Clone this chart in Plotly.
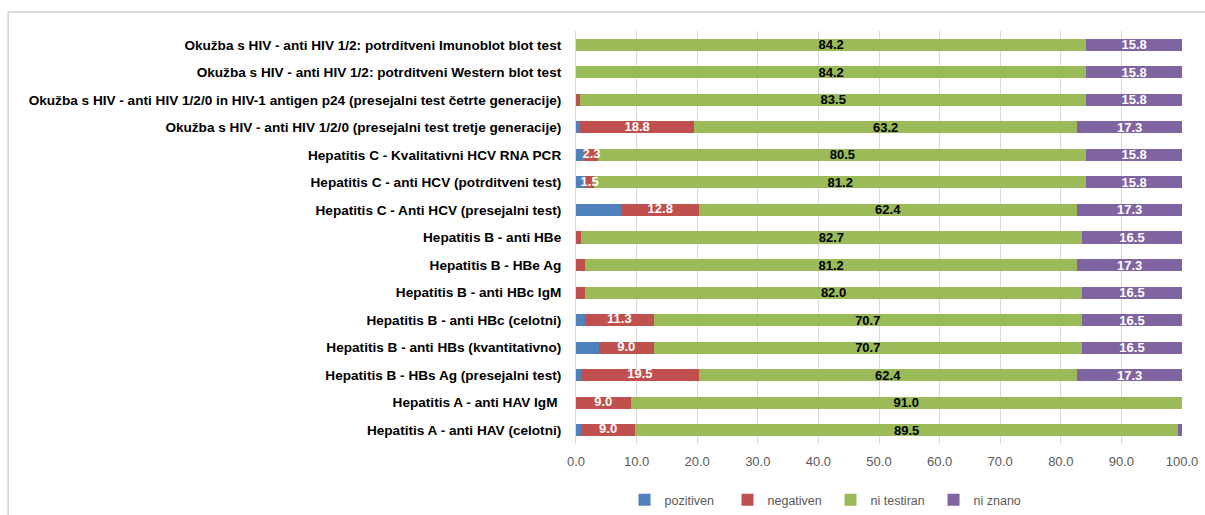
import plotly.graph_objects as go

# categories, top to bottom as in the chart
categories = [
    "Okužba s HIV - anti HIV 1/2: potrditveni Imunoblot blot test",
    "Okužba s HIV - anti HIV 1/2: potrditveni Western blot test",
    "Okužba s HIV - anti HIV 1/2/0 in HIV-1 antigen p24 (presejalni test četrte generacije)",
    "Okužba s HIV - anti HIV 1/2/0 (presejalni test tretje generacije)",
    "Hepatitis C - Kvalitativni HCV RNA PCR",
    "Hepatitis C - anti HCV (potrditveni test)",
    "Hepatitis C - Anti HCV (presejalni test)",
    "Hepatitis B - anti HBe",
    "Hepatitis B - HBe Ag",
    "Hepatitis B - anti HBc IgM",
    "Hepatitis B - anti HBc (celotni)",
    "Hepatitis B - anti HBs (kvantitativno)",
    "Hepatitis B - HBs Ag (presejalni test)",
    "Hepatitis A - anti HAV IgM ",
    "Hepatitis A - anti HAV (celotni)",
]

pozitiven = [0.0, 0.0, 0.0, 0.7, 1.4, 1.5, 7.5, 0.0, 0.0, 0.0, 1.5, 3.8, 0.8, 0.0, 0.8]
negativen = [0.0, 0.0, 0.7, 18.8, 2.3, 1.5, 12.8, 0.8, 1.5, 1.5, 11.3, 9.0, 19.5, 9.0, 9.0]
ni_testiran = [84.2, 84.2, 83.5, 63.2, 80.5, 81.2, 62.4, 82.7, 81.2, 82.0, 70.7, 70.7, 62.4, 91.0, 89.5]
ni_znano = [15.8, 15.8, 15.8, 17.3, 15.8, 15.8, 17.3, 16.5, 17.3, 16.5, 16.5, 16.5, 17.3, 0.0, 0.7]

# which "negativen" labels are shown in the original
neg_label_shown = [False, False, False, True, True, True, True, False, False, False, True, True, True, True, True]

x_ticks = [0, 10, 20, 30, 40, 50, 60, 70, 80, 90, 100]

COLORS = {
    'pozitiven': '#4f81bd',
    'negativen': '#c0504d',
    'ni testiran': '#9bbb59',
    'ni znano': '#8064a2',
}
FONT = "Liberation Sans, Arial, sans-serif"


def labels(values, mask=None):
    out = []
    for i, v in enumerate(values):
        show = v >= 2 if mask is None else mask[i]
        out.append(f"{v:.1f}" if show and v > 0 else "")
    return out


fig = go.Figure()
series = [
    ("pozitiven", pozitiven, "", "white"),
    ("negativen", negativen, "", "white"),
    ("ni testiran", ni_testiran, labels(ni_testiran), "black"),
    ("ni znano", ni_znano, labels(ni_znano), "white"),
]
for name, vals, txt, tcol in series:
    fig.add_trace(go.Bar(
        y=categories,
        x=vals,
        name=name,
        orientation='h',
        marker=dict(color=COLORS[name], line=dict(width=0)),
        text=txt if txt else None,
        textposition='inside',
        insidetextanchor='middle',
        textangle=0,
        constraintext='none',
        textfont=dict(color=tcol, size=13, family=FONT, weight='bold'),
        hoverinfo='x+name',
    ))

# negativen labels drawn on top so that narrow segments can overflow like in the original
neg_centers = [p + n / 2 for p, n in zip(pozitiven, negativen)]
fig.add_trace(go.Scatter(
    y=categories,
    x=neg_centers,
    mode='text',
    text=labels(negativen, neg_label_shown),
    textposition='middle center',
    textfont=dict(color='white', size=13, family=FONT, weight='bold'),
    showlegend=False,
    hoverinfo='skip',
    cliponaxis=False,
))

fig.update_layout(
    barmode='stack',
    bargap=0.56,
    width=1205,
    height=515,
    paper_bgcolor='#ffffff',
    plot_bgcolor='#ffffff',
    margin=dict(l=576, r=23, t=31, b=71, autoexpand=False),
    font=dict(family=FONT, color='#595959', size=13),
    uniformtext=dict(minsize=13, mode='show'),
    showlegend=True,
    legend=dict(
        orientation='h',
        xanchor='center', x=0.42,
        yanchor='middle', y=-0.136,
        font=dict(size=12.5, color='#595959'),
        traceorder='normal',
        itemwidth=30,
        entrywidth=58,
        entrywidthmode='pixels',
    ),
    shapes=[dict(
        type='rect', xref='paper', yref='paper',
        x0=-0.937, x1=1.5, y0=-0.5, y1=1.046,
        line=dict(color='#d0d0d0', width=1.5),
        layer='below',
    )],
)

fig.update_xaxes(
    range=[0, 100],
    tickvals=x_ticks,
    ticktext=[f"{t:.1f}" for t in x_ticks],
    showgrid=True,
    gridcolor='#d9d9d9',
    gridwidth=1,
    zeroline=False,
    showline=False,
    tickfont=dict(size=13, color='#595959'),
    ticks='',
    ticklabelstandoff=8,
    automargin=False,
)
fig.update_yaxes(
    range=[len(categories) - 0.5, -0.5],
    showgrid=False,
    showline=True,
    linecolor='#d9d9d9',
    tickfont=dict(size=13.6, color='#000000', family=FONT, weight='bold'),
    ticks='',
    ticklabelstandoff=11,
    automargin=False,
)

fig.write_html(
    "out.html",
    config={'displayModeBar': False},
    post_script="document.body.style.margin='0';document.body.style.overflow='hidden';",
)
